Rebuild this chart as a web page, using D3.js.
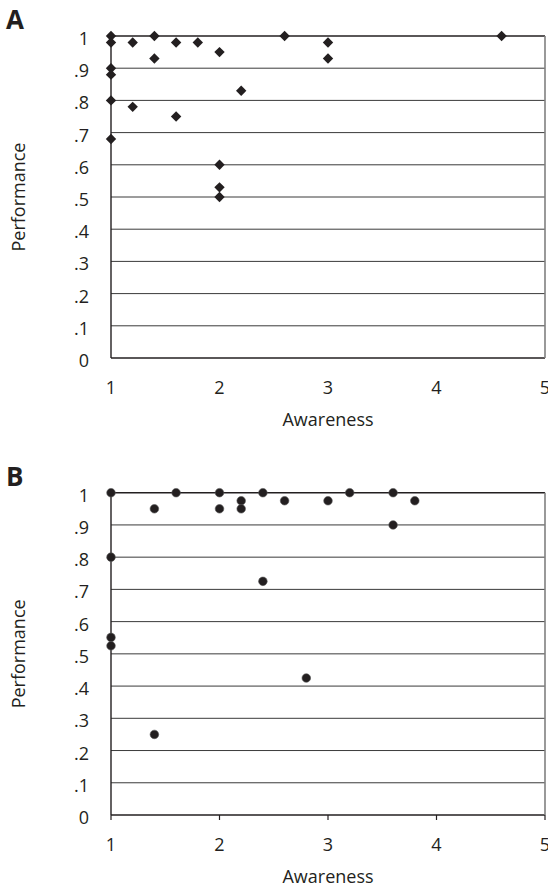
<!DOCTYPE html>
<html>
<head>
<meta charset="utf-8">
<script src="https://cdn.jsdelivr.net/npm/d3@7"></script>
<style>
  body { margin: 0; background: #fff; }
  svg text { font-family: "Open Sans", sans-serif; fill: #231f20; }
</style>
</head>
<body>
<div id="chart"></div>
<script>
// panel A (diamonds)
const awarenessA   = [1, 1, 1.2, 1.4, 1.6, 1.8, 2, 1.4, 1, 1, 2.2, 1, 1.2, 1.6, 1, 2, 2, 2, 2.6, 3, 3, 4.6];
const performanceA = [1, .98, .98, 1, .98, .98, .95, .93, .9, .88, .83, .8, .78, .75, .68, .6, .53, .5, 1, .98, .93, 1];

// panel B (circles)
const awarenessB   = [1, 1.4, 1.6, 2, 2, 2.2, 2.2, 2.4, 1, 2.4, 1, 1, 1.4, 2.6, 3, 3.2, 3.6, 3.6, 3.8, 2.8];
const performanceB = [1, .95, 1, 1, .95, .975, .95, 1, .8, .725, .551, .525, .25, .975, .975, 1, 1, .9, .975, .425];

const yTicks      = [0, .1, .2, .3, .4, .5, .6, .7, .8, .9, 1];
const yTickLabels = ["0", ".1", ".2", ".3", ".4", ".5", ".6", ".7", ".8", ".9", "1"];
const xTicks      = [1, 2, 3, 4, 5];

const W = 548, H = 888;
const svg = d3.select("#chart").append("svg").attr("width", W).attr("height", H);

const x = d3.scaleLinear().domain([1, 5]).range([111, 545]);

function drawPanel(label, top, bottom, xs, ys, kind, xTickMarks)
{
  let y = d3.scaleLinear().domain([0, 1]).range([bottom, top]);
  let g = svg.append("g");

  // horizontal grid lines
  g.selectAll(".grid")
    .data(yTicks)
    .enter()
    .append("line")
    .attr("x1", x(1)).attr("x2", x(5))
    .attr("y1", d => y(d)).attr("y2", d => y(d))
    .attr("stroke", d => (d == 0 || d == 1) ? "#231f20" : "#3a3a3a")
    .attr("stroke-width", d => (d == 0 || d == 1) ? 1.4 : 1);

  // right border
  g.append("line")
    .attr("x1", x(5)).attr("x2", x(5))
    .attr("y1", y(1)).attr("y2", y(0))
    .attr("stroke", "#808080").attr("stroke-width", 1.6);

  // left axis
  g.append("line")
    .attr("x1", x(1)).attr("x2", x(1))
    .attr("y1", y(1)).attr("y2", y(0))
    .attr("stroke", "#231f20").attr("stroke-width", 1.4);

  if (xTickMarks) {
    g.selectAll(".xt")
      .data(xTicks)
      .enter()
      .append("line")
      .attr("x1", d => x(d)).attr("x2", d => x(d))
      .attr("y1", y(0)).attr("y2", y(0) + 5)
      .attr("stroke", "#231f20").attr("stroke-width", 1.2);
  }

  // y tick labels
  g.selectAll(".yl")
    .data(yTicks)
    .enter()
    .append("text")
    .attr("x", 89)
    .attr("y", d => y(d) + 9)
    .attr("text-anchor", "end")
    .attr("font-size", 18)
    .text((d, i) => yTickLabels[i]);

  // x tick labels
  g.selectAll(".xl")
    .data(xTicks)
    .enter()
    .append("text")
    .attr("x", d => x(d))
    .attr("y", y(0) + 36)
    .attr("text-anchor", "middle")
    .attr("font-size", 18)
    .text(d => d);

  g.append("text")
    .attr("x", x(3))
    .attr("y", y(0) + 68)
    .attr("text-anchor", "middle")
    .attr("font-size", 18)
    .text("Awareness");

  g.append("text")
    .attr("transform", "translate(25," + ((top + bottom) / 2) + ") rotate(-90)")
    .attr("text-anchor", "middle")
    .attr("font-size", 18)
    .text("Performance");

  g.append("text")
    .attr("x", 6)
    .attr("y", top - 7)
    .attr("font-size", 26)
    .attr("font-weight", "bold")
    .text(label);

  let pts = xs.map((v, i) => [v, ys[i]]);

  if (kind == "diamond") {
    let sym = d3.symbol().type(d3.symbolSquare).size(54);
    g.selectAll(".pt")
      .data(pts)
      .enter()
      .append("path")
      .attr("d", sym)
      .attr("transform", d => "translate(" + x(d[0]) + "," + y(d[1]) + ") rotate(45)")
      .attr("fill", "#231f20");
  } else {
    g.selectAll(".pt")
      .data(pts)
      .enter()
      .append("circle")
      .attr("cx", d => x(d[0]))
      .attr("cy", d => y(d[1]))
      .attr("r", 4.3)
      .attr("fill", "#231f20")
      .attr("stroke", "#555")
      .attr("stroke-width", 0.6);
  }
}

drawPanel("A", 36, 358, awarenessA, performanceA, "diamond", false);
drawPanel("B", 492.7, 815, awarenessB, performanceB, "circle", true);
</script>
</body>
</html>
